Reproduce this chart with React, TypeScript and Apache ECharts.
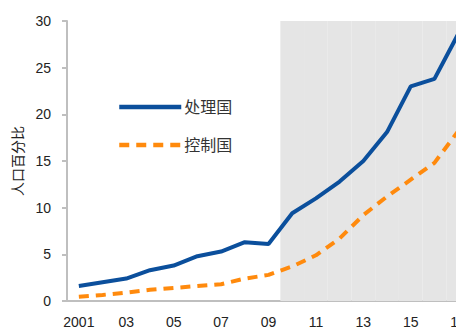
import React, { useEffect, useRef } from "react";
import * as echarts from "echarts";

const years = ["2001","2002","2003","2004","2005","2006","2007","2008","2009","2010","2011","2012","2013","2014","2015","2016","2017"];
const yearLabels = ["2001","02","03","04","05","06","07","08","09","10","11","12","13","14","15","16","17"];
const treated = [1.6, 2.0, 2.4, 3.3, 3.8, 4.8, 5.3, 6.3, 6.1, 9.4, 11.0, 12.8, 15.0, 18.1, 23.0, 23.8, 28.6];
const control = [0.45, 0.65, 0.9, 1.2, 1.4, 1.6, 1.8, 2.4, 2.8, 3.7, 4.9, 6.7, 9.2, 11.2, 13.0, 14.8, 18.2];
const shaded = [null, null, null, null, null, null, null, null, null, 30, 30, 30, 30, 30, 30, 30, 30];
const yTicks = { min: 0, max: 30, interval: 5 };

const FONT = "'Liberation Sans', 'Noto Sans CJK SC', sans-serif";

export default function App() {
  const ref = useRef<HTMLDivElement>(null);
  useEffect(() => {
    if (!ref.current) return;
    const chart = echarts.init(ref.current, undefined, { renderer: "svg" });
    chart.setOption({
      animation: false,
      textStyle: { fontFamily: FONT },
      grid: { left: 67, right: 10, top: 21, bottom: 32 },
      legend: {
        data: ["处理国", "控制国"],
        orient: "vertical",
        left: 112,
        top: 94,
        itemWidth: 62,
        itemHeight: 14,
        itemGap: 22,
        itemStyle: { opacity: 0 },
        lineStyle: { width: 4.5 },
        textStyle: { fontSize: 16, color: "#333", fontFamily: FONT, padding: [0, 0, 0, -2] },
      },
      xAxis: {
        type: "category",
        data: years,
        boundaryGap: true,
        axisLine: { lineStyle: { color: "#bfbfbf", width: 2 } },
        axisTick: { show: false },
        axisLabel: {
          interval: 1,
          margin: 14,
          fontSize: 14,
          color: "#222",
          formatter: (v: string) => yearLabels[years.indexOf(v)],
        },
        splitLine: { show: false },
      },
      yAxis: {
        type: "value",
        min: yTicks.min,
        max: yTicks.max,
        interval: yTicks.interval,
        name: "人口百分比",
        nameLocation: "middle",
        nameGap: 40,
        nameTextStyle: { fontSize: 14, color: "#222" },
        axisLine: { show: true, lineStyle: { color: "#bfbfbf", width: 2 } },
        axisTick: { show: true, length: 5, lineStyle: { color: "#bfbfbf", width: 2 } },
        axisLabel: { fontSize: 14, color: "#222", margin: 16 },
        splitLine: { show: false },
      },
      series: [
        {
          name: "shade",
          type: "bar",
          data: shaded,
          barWidth: "100%",
          barCategoryGap: 0,
          itemStyle: { color: "#e5e5e5" },
          silent: true,
          z: 1,
        },
        {
          name: "处理国",
          type: "line",
          data: treated,
          symbol: "none",
          lineStyle: { color: "#0b4f9c", width: 4 },
          itemStyle: { color: "#0b4f9c" },
          z: 3,
        },
        {
          name: "控制国",
          type: "line",
          data: control,
          symbol: "none",
          lineStyle: { color: "#ff8a0d", width: 4, type: [10, 7] },
          itemStyle: { color: "#ff8a0d" },
          z: 3,
        },
      ],
    });
    return () => chart.dispose();
  }, []);
  return (
    <div style={{ position: "absolute", left: 0, top: 0, width: 456, height: 333, overflow: "hidden", background: "#fff" }}>
      <div ref={ref} style={{ width: 480, height: 333 }} />
    </div>
  );
}
